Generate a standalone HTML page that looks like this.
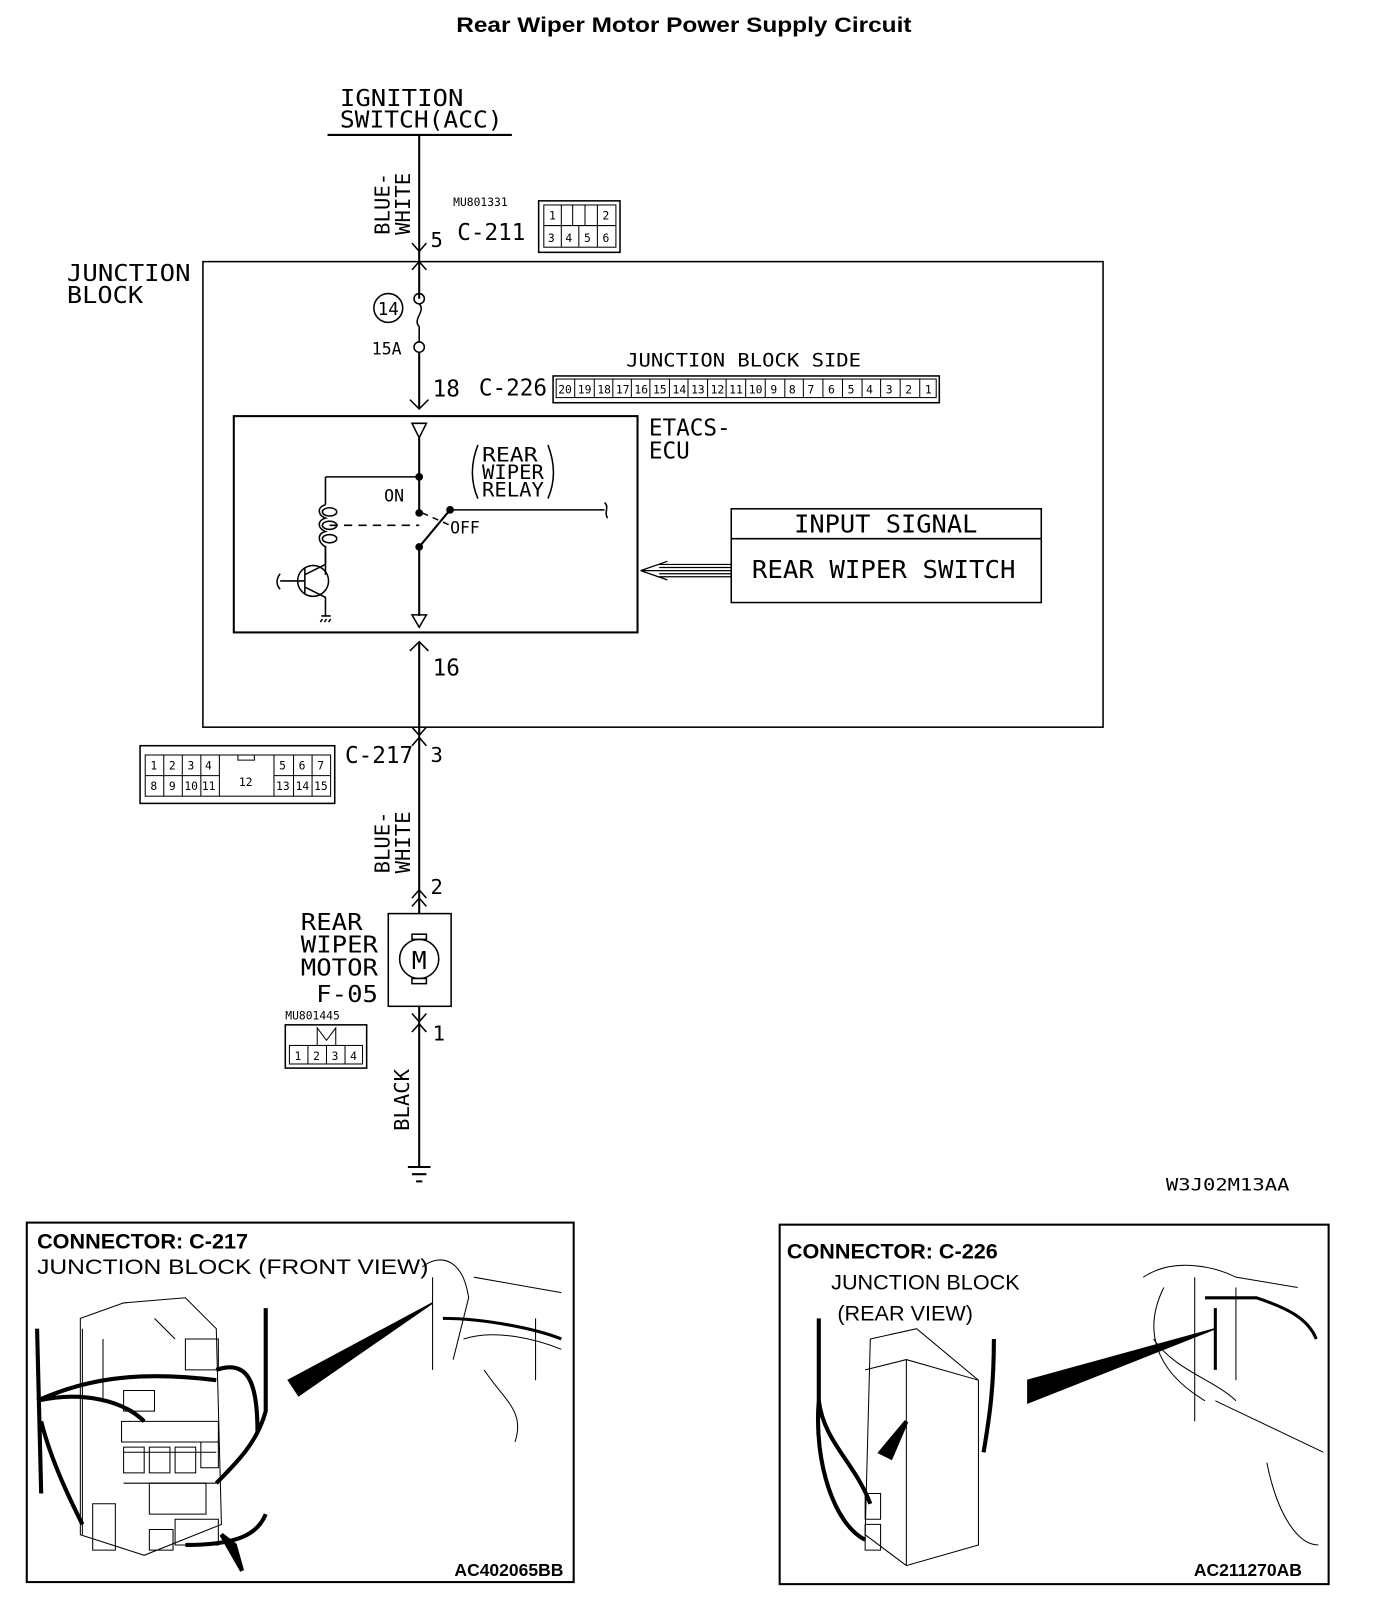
<!DOCTYPE html>
<html><head><meta charset="utf-8"><style>
html,body{margin:0;padding:0;background:#fff;}
svg{display:block;}
.m{font-family:"DejaVu Sans Mono","Liberation Mono",monospace;}
.s{font-family:"Liberation Sans",sans-serif;}
</style></head><body>
<svg width="1376" height="1614" viewBox="0 0 1336 1567" preserveAspectRatio="none" xmlns="http://www.w3.org/2000/svg">
<rect width="1336" height="1567" fill="#fff"/>
<g fill="none" stroke="#000" stroke-width="1.5">
<text x="443" y="31" class="s" font-size="21" font-weight="bold" fill="#000" stroke="none" textLength="442" lengthAdjust="spacingAndGlyphs">Rear Wiper Motor Power Supply Circuit</text>
<!-- ignition -->
<text x="330" y="103" class="m" font-size="22" fill="#000" stroke="none" textLength="120" lengthAdjust="spacingAndGlyphs">IGNITION</text>
<text x="330" y="124" class="m" font-size="22" fill="#000" stroke="none" textLength="158" lengthAdjust="spacingAndGlyphs">SWITCH(ACC)</text>
<line x1="318" y1="131" x2="497" y2="131" stroke-width="2"/>
<line x1="407" y1="131" x2="407" y2="290" stroke-width="2"/>
<text transform="translate(378,228) rotate(-90)" class="m" font-size="20" fill="#000" stroke="none">BLUE-</text>
<text transform="translate(398,228) rotate(-90)" class="m" font-size="20" fill="#000" stroke="none">WHITE</text>
<path d="M400 236 L407 244 L414 236 M400 262 L407 254 L414 262"/>
<text x="418" y="240" class="m" font-size="20" fill="#000" stroke="none">5</text>
<text x="444" y="233" class="m" font-size="22" fill="#000" stroke="none">C-211</text>
<text x="440" y="200" class="m" font-size="11" fill="#000" stroke="none">MU801331</text>
<rect x="523" y="195" width="79" height="50"/>
<rect x="528" y="199" width="70" height="41" stroke-width="1"/>
<path d="M528 219 H598 M545 199 V240 M562 219 V240 M580 199 V240 M556 199 V219 H568 V199" stroke-width="1"/>
<g class="m" font-size="11" fill="#000" stroke="none"><text x="533" y="213">1</text><text x="585" y="213">2</text><text x="532" y="235">3</text><text x="549" y="235">4</text><text x="567" y="235">5</text><text x="585" y="235">6</text></g>
<!-- junction block -->
<text x="65" y="273" class="m" font-size="22" fill="#000" stroke="none" textLength="120" lengthAdjust="spacingAndGlyphs">JUNCTION</text>
<text x="65" y="294" class="m" font-size="22" fill="#000" stroke="none" textLength="74" lengthAdjust="spacingAndGlyphs">BLOCK</text>
<rect x="197" y="254" width="874" height="452"/>
<circle cx="377" cy="299" r="14"/>
<text x="377" y="306" class="m" font-size="17" text-anchor="middle" fill="#000" stroke="none">14</text>
<circle cx="407" cy="290" r="5"/>
<path d="M407 295 C414 302 400 310 407 317 L407 332"/>
<circle cx="407" cy="337" r="5"/>
<text x="361" y="344" class="m" font-size="16" fill="#000" stroke="none">15A</text>
<line x1="407" y1="342" x2="407" y2="397" stroke-width="2"/>
<path d="M398 388 L407 397 L416 388"/>
<text x="420" y="385" class="m" font-size="22" fill="#000" stroke="none">18</text>
<text x="465" y="384" class="m" font-size="22" fill="#000" stroke="none">C-226</text>
<text x="608" y="356" class="m" font-size="18" fill="#000" stroke="none" textLength="228" lengthAdjust="spacingAndGlyphs">JUNCTION BLOCK SIDE</text>
<rect x="537" y="365" width="375" height="26"/>
<rect x="540" y="368" width="369" height="18" stroke-width="1"/>
<g class="m" font-size="11" fill="#000" stroke="none">
<text x="542" y="382">20</text><text x="561" y="382">19</text><text x="580" y="382">18</text><text x="598" y="382">17</text><text x="616" y="382">16</text><text x="634" y="382">15</text><text x="653" y="382">14</text><text x="671" y="382">13</text><text x="690" y="382">12</text><text x="708" y="382">11</text><text x="727" y="382">10</text><text x="748" y="382">9</text><text x="766" y="382">8</text><text x="784" y="382">7</text><text x="804" y="382">6</text><text x="823" y="382">5</text><text x="841" y="382">4</text><text x="860" y="382">3</text><text x="879" y="382">2</text><text x="898" y="382">1</text>
</g>
<path d="M558 368V386M577 368V386M595 368V386M613 368V386M631 368V386M650 368V386M668 368V386M687 368V386M705 368V386M724 368V386M743 368V386M762 368V386M780 368V386M799 368V386M818 368V386M837 368V386M855 368V386M874 368V386M893 368V386" stroke-width="1"/>
<!-- ECU -->
<rect x="227" y="404" width="392" height="210" stroke-width="2"/>
<text x="630" y="423" class="m" font-size="22" fill="#000" stroke="none">ETACS-</text>
<text x="630" y="445" class="m" font-size="22" fill="#000" stroke="none">ECU</text>
<path d="M400 411 H414 L407 425 Z" stroke-width="1.5"/>
<path d="M316 463 H407" />
<path d="M316 463 V490 M316 531 V558"/>
<path d="M316 490 C308 492 308 500 316 503 C308 505 308 513 316 516 C308 518 308 526 316 531"/>
<ellipse cx="320" cy="497" rx="7" ry="4"/><ellipse cx="320" cy="510" rx="7" ry="4"/><ellipse cx="320" cy="523" rx="7" ry="4"/>
<path d="M320 510 H407" stroke-dasharray="8,6"/>
<path d="M410 498 L437 510" stroke-dasharray="6,5"/>
<line x1="407" y1="425" x2="407" y2="498" stroke-width="2"/>
<line x1="407" y1="531" x2="407" y2="598" stroke-width="2"/>
<line x1="407" y1="531" x2="437" y2="495" stroke-width="2"/>
<circle cx="407" cy="463" r="3" fill="#000"/><circle cx="407" cy="498" r="3" fill="#000"/><circle cx="407" cy="531" r="3" fill="#000"/><circle cx="437" cy="495" r="3" fill="#000"/>
<path d="M437 495 H587 M587 488 C592 492 586 498 590 503" stroke-width="1.5"/>
<text x="373" y="487" class="m" font-size="16" fill="#000" stroke="none">ON</text>
<text x="437" y="518" class="m" font-size="16" fill="#000" stroke="none">OFF</text>
<text x="468" y="448" class="m" font-size="19" fill="#000" stroke="none" textLength="54" lengthAdjust="spacingAndGlyphs">REAR</text>
<text x="468" y="465" class="m" font-size="19" fill="#000" stroke="none" textLength="60" lengthAdjust="spacingAndGlyphs">WIPER</text>
<text x="468" y="482" class="m" font-size="19" fill="#000" stroke="none" textLength="60" lengthAdjust="spacingAndGlyphs">RELAY</text>
<path d="M464 432 C457 450 457 468 464 484 M532 432 C539 450 539 468 532 484"/>
<circle cx="304" cy="564" r="15"/>
<path d="M296 552 V576 M272 564 H296 M296 558 L316 548 V530 M296 570 L316 580 V598 M310 577 L316 580" />
<path d="M272 557 C268 562 268 568 272 572"/>
<path d="M312 598 H321 M313 601 L311 604 M317 601 L315 604 M321 601 L319 604"/>
<path d="M400 597 H414 L407 609 Z"/>
<!-- input signal -->
<rect x="710" y="494" width="301" height="91"/>
<line x1="710" y1="523" x2="1011" y2="523"/>
<text x="860" y="517" class="m" font-size="24" text-anchor="middle" fill="#000" stroke="none" textLength="178" lengthAdjust="spacingAndGlyphs">INPUT SIGNAL</text>
<text x="858" y="561" class="m" font-size="24" text-anchor="middle" fill="#000" stroke="none" textLength="256" lengthAdjust="spacingAndGlyphs">REAR WIPER SWITCH</text>
<path d="M622 554 L710 554 M622 554 L648 545 M622 554 L648 563 M640 548 H710 M640 551 H710 M640 557 H710 M640 560 H710" stroke-width="1.2"/>
<!-- 16 -->
<path d="M398 632 L407 623 L416 632"/>
<line x1="407" y1="623" x2="407" y2="990" stroke-width="2"/>
<text x="420" y="656" class="m" font-size="22" fill="#000" stroke="none">16</text>
<path d="M400 706 L407 714 L414 706 M400 724 L407 716 L414 724"/>
<text x="418" y="740" class="m" font-size="20" fill="#000" stroke="none">3</text>
<text x="335" y="741" class="m" font-size="22" fill="#000" stroke="none">C-217</text>
<rect x="136" y="724" width="189" height="56"/>
<rect x="141" y="733" width="180" height="40" stroke-width="1"/>
<path d="M141 753 H213 M266 753 H321 M159 733V773 M177 733V773 M195 733V773 M213 733V773 M266 733V773 M285 733V773 M303 733V773 M231 733V738H247V733" stroke-width="1"/>
<g class="m" font-size="11" fill="#000" stroke="none">
<text x="146" y="747">1</text><text x="164" y="747">2</text><text x="182" y="747">3</text><text x="199" y="747">4</text><text x="271" y="747">5</text><text x="290" y="747">6</text><text x="308" y="747">7</text>
<text x="146" y="767">8</text><text x="164" y="767">9</text><text x="179" y="767">10</text><text x="196" y="767">11</text><text x="232" y="763">12</text><text x="268" y="767">13</text><text x="287" y="767">14</text><text x="305" y="767">15</text></g>
<text transform="translate(378,848) rotate(-90)" class="m" font-size="20" fill="#000" stroke="none">BLUE-</text>
<text transform="translate(398,848) rotate(-90)" class="m" font-size="20" fill="#000" stroke="none">WHITE</text>
<path d="M400 872 L407 864 L414 872 M400 880 L407 872 L414 880"/>
<text x="418" y="868" class="m" font-size="20" fill="#000" stroke="none">2</text>
<!-- motor -->
<rect x="377" y="887" width="61" height="90" fill="#fff"/>
<circle cx="407" cy="931" r="19" fill="#fff"/>
<rect x="400" y="907" width="14" height="5" fill="#fff"/><rect x="400" y="950" width="14" height="5" fill="#fff"/>
<text x="407" y="941" class="m" font-size="24" text-anchor="middle" fill="#000" stroke="none">M</text>
<text x="292" y="903" class="m" font-size="22" fill="#000" stroke="none" textLength="60" lengthAdjust="spacingAndGlyphs">REAR</text>
<text x="292" y="925" class="m" font-size="22" fill="#000" stroke="none" textLength="75" lengthAdjust="spacingAndGlyphs">WIPER</text>
<text x="292" y="947" class="m" font-size="22" fill="#000" stroke="none" textLength="75" lengthAdjust="spacingAndGlyphs">MOTOR</text>
<text x="307" y="973" class="m" font-size="22" fill="#000" stroke="none" textLength="60" lengthAdjust="spacingAndGlyphs">F-05</text>
<path d="M400 984 L407 992 L414 984 M400 1002 L407 994 L414 1002"/>
<line x1="407" y1="990" x2="407" y2="1133" stroke-width="2"/>
<text x="420" y="1010" class="m" font-size="20" fill="#000" stroke="none">1</text>
<text x="277" y="990" class="m" font-size="11" fill="#000" stroke="none">MU801445</text>
<rect x="277" y="995" width="79" height="42"/>
<rect x="281" y="1015" width="71" height="18" stroke-width="1"/>
<path d="M299 1015V1033M317 1015V1033M335 1015V1033 M308 1015 V998 L317 1010 L326 998 V1015" stroke-width="1"/>
<g class="m" font-size="11" fill="#000" stroke="none"><text x="286" y="1029">1</text><text x="304" y="1029">2</text><text x="322" y="1029">3</text><text x="340" y="1029">4</text></g>
<text transform="translate(397,1098) rotate(-90)" class="m" font-size="20" fill="#000" stroke="none">BLACK</text>
<path d="M396 1133 H418 M400 1140 H414 M404 1147 H410" stroke-width="2"/>
<text x="1252" y="1156" class="m" font-size="16" text-anchor="end" fill="#000" stroke="none" textLength="120" lengthAdjust="spacingAndGlyphs">W3J02M13AA</text>
<!-- bottom left box -->
<rect x="26" y="1187" width="531" height="349" stroke-width="2"/>
<text x="36" y="1212" class="s" font-size="21" font-weight="bold" fill="#000" stroke="none">CONNECTOR: C-217</text>
<text x="36" y="1237" class="s" font-size="21" fill="#000" stroke="none" textLength="380" lengthAdjust="spacingAndGlyphs">JUNCTION BLOCK (FRONT VIEW)</text>
<text x="547" y="1530" class="s" font-size="17" font-weight="bold" text-anchor="end" fill="#000" stroke="none">AC402065BB</text>
<path d="M78 1280 L120 1265 L180 1260 L210 1290 L215 1480 L140 1510 L78 1490 Z" stroke-width="1"/>
<path d="M80 1290 L80 1490 M118 1380 H212 V1400 H118 Z M180 1300 H212 V1330 H180Z M120 1350 H150 V1370 H120Z M120 1410 H210 M120 1440 H210 M170 1475 H212 V1500 H170Z M145 1485 H168 V1505 H145Z" stroke-width="1"/>
<path d="M120 1405 H140 V1430 H120Z M145 1405 H165 V1430 H145Z M170 1405 H190 V1430 H170Z M195 1400 H212 V1425 H195Z M145 1440 H200 V1470 H145Z M90 1460 H112 V1505 H90Z M100 1300 L100 1360 M150 1280 L170 1300" stroke-width="1"/>
<path d="M36 1360 C80 1340 130 1330 210 1340 M36 1360 C80 1350 120 1360 140 1380 M36 1290 L40 1450 M258 1270 V1370 C250 1400 230 1420 210 1440 M40 1380 C50 1420 70 1460 80 1480 M258 1470 C250 1490 230 1500 180 1500 M210 1330 C240 1320 250 1340 250 1390" stroke-width="4"/>
<path d="M280 1340 L420 1265 L290 1355 Z" fill="#000"/>
<path d="M215 1490 L235 1525 L228 1500 Z" fill="#000" stroke-width="4"/>
<path d="M410 1230 C430 1215 450 1225 455 1260 L440 1320 M420 1240 V1330 M460 1240 L545 1255 M450 1300 C480 1290 520 1300 545 1310 M520 1280 V1340 M470 1330 C490 1360 510 1370 500 1400" stroke-width="1"/>
<path d="M430 1280 C470 1280 520 1290 545 1300" stroke-width="3"/>
<!-- bottom right box -->
<rect x="757" y="1189" width="533" height="349" stroke-width="2"/>
<text x="764" y="1222" class="s" font-size="21" font-weight="bold" fill="#000" stroke="none">CONNECTOR: C-226</text>
<text x="807" y="1252" class="s" font-size="21" fill="#000" stroke="none">JUNCTION BLOCK</text>
<text x="813" y="1282" class="s" font-size="21" fill="#000" stroke="none">(REAR VIEW)</text>
<text x="1264" y="1530" class="s" font-size="17" font-weight="bold" text-anchor="end" fill="#000" stroke="none">AC211270AB</text>
<path d="M845 1300 L890 1290 L950 1340 L950 1500 L880 1520 L840 1490 Z M840 1330 L880 1320 L950 1340 M880 1320 L880 1520" stroke-width="1"/>
<path d="M840 1450 H855 V1475 H840 Z M840 1480 H855 V1505 H840Z" stroke-width="1"/>
<path d="M795 1280 V1360 C800 1400 830 1420 845 1460 M795 1360 C790 1420 810 1480 840 1495 M965 1300 C965 1350 960 1380 955 1410" stroke-width="4"/>
<path d="M998 1340 L1180 1290 L998 1362 Z" fill="#000"/>
<path d="M855 1410 L880 1380 L865 1415 Z" fill="#000" stroke-width="4"/>
<path d="M1110 1240 C1140 1220 1180 1230 1200 1240 L1260 1250 M1120 1300 C1140 1330 1180 1340 1200 1360 M1160 1240 V1380 M1200 1250 V1340 M1130 1250 C1110 1290 1120 1330 1170 1360 M1180 1360 L1285 1410 M1230 1420 C1240 1470 1260 1500 1280 1500" stroke-width="1"/>
<path d="M1170 1260 H1220 C1250 1270 1270 1280 1278 1300 M1180 1270 V1330" stroke-width="3"/>
</g>
</svg>
</body></html>
